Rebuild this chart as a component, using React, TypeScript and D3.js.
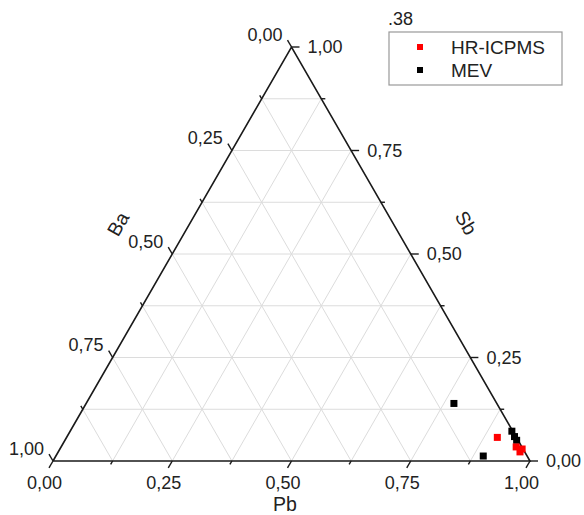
import React from "react";
import * as d3 from "d3";

// ternary data: Pb, Sb, Ba fractions (Ba = 1 - Pb - Sb)
const hrPb = [0.903, 0.954, 0.969, 0.968];
const hrSb = [0.057, 0.034, 0.029, 0.022];
const mevPb = [0.771, 0.896, 0.926, 0.938, 0.947];
const mevSb = [0.139, 0.012, 0.072, 0.059, 0.05];
const majorTicks = [0, 0.25, 0.5, 0.75, 1];
const minorTicks = [0.125, 0.375, 0.625, 0.875];
const gridSteps = [0.125, 0.25, 0.375, 0.5, 0.625, 0.75, 0.875];
const legendNames = ["HR-ICPMS", "MEV"];
const cornerNote = ".38";

const locale = d3.formatLocale({ decimal: ",", thousands: ".", grouping: [3], currency: ["", ""] });
const fmt = locale.format(".2f");

const xs = d3.scaleLinear().domain([0, 1]).range([53, 530]);
const ys = d3.scaleLinear().domain([0, 1]).range([461, 47]);
const proj = (pb: number, sb: number): [number, number] => [xs(pb + sb / 2), ys(sb)];

const FONT = "'Liberation Sans', Arial, sans-serif";
const S3 = Math.sqrt(3) / 2;

export default function App() {
  const line = d3.line();
  const grid: [number, number][][] = [];
  gridSteps.forEach((s) => {
    grid.push([proj(0, s), proj(1 - s, s)]); // const Sb
    grid.push([proj(s, 0), proj(s, 1 - s)]); // const Pb
    grid.push([proj(1 - s, 0), proj(0, 1 - s)]); // const Ba
  });

  const tickLines = (vals: number[], len: number) =>
    vals.flatMap((v) => {
      const b = proj(v, 0);
      const r = proj(1 - v, v);
      const l = proj(0, 1 - v);
      return [
        [b, [b[0] - 0.5 * len, b[1] + S3 * len]],
        [r, [r[0] + len, r[1]]],
        [l, [l[0] - 0.5 * len, l[1] - S3 * len]],
      ] as [number, number][][];
    });

  const tri = [proj(0, 0), proj(1, 0), proj(0, 1), proj(0, 0)];

  return (
    <svg width={584} height={515} style={{ position: "absolute", left: 0, top: 0, background: "#fff" }}>
      <g fill="none" stroke="#dcdcdc" strokeWidth={1}>
        {grid.map((g, i) => (
          <path key={i} d={line(g) || ""} />
        ))}
      </g>
      <path d={line(tri as [number, number][]) || ""} fill="none" stroke="#1a1a1a" strokeWidth={1.6} />
      <g stroke="#1a1a1a" strokeWidth={1.4}>
        {tickLines(majorTicks, 8).map((t, i) => (
          <path key={"M" + i} d={line(t) || ""} />
        ))}
        {tickLines(minorTicks, 4).map((t, i) => (
          <path key={"m" + i} d={line(t) || ""} />
        ))}
      </g>
      <g fontFamily={FONT} fontSize={18} fill="#222">
        {majorTicks.map((v) => {
          const b = proj(v, 0);
          const r = proj(1 - v, v);
          const l = proj(0, 1 - v);
          return (
            <g key={v}>
              <text x={b[0] - 8.5} y={b[1] + 21.5} dy="0.35em" textAnchor="middle">{fmt(v)}</text>
              <text x={r[0] + 16} y={r[1]} dy="0.35em" textAnchor="start">{fmt(v)}</text>
              <text x={l[0] - 9} y={l[1] - 12.5} dy="0.35em" textAnchor="end">{fmt(v)}</text>
            </g>
          );
        })}
      </g>
      <g fontFamily={FONT} fontSize={19.5} fill="#222">
        <text x={285} y={511} textAnchor="middle">Pb</text>
        <text transform="translate(118,224) rotate(-60)" dy="0.35em" textAnchor="middle">Ba</text>
        <text transform="translate(466,223) rotate(60)" dy="0.35em" textAnchor="middle">Sb</text>
      </g>
      <g>
        {mevPb.map((p, i) => {
          const [x, y] = proj(p, mevSb[i]);
          return <rect key={"k" + i} x={x - 3.5} y={y - 3.5} width={7} height={7} fill="#000" />;
        })}
        {hrPb.map((p, i) => {
          const [x, y] = proj(p, hrSb[i]);
          return <rect key={"r" + i} x={x - 3.5} y={y - 3.5} width={7} height={7} fill="#f00" />;
        })}
      </g>
      <text x={388} y={25} fontFamily={FONT} fontSize={18} fill="#222">{cornerNote}</text>
      <rect x={389} y={32} width={173} height={53} fill="#fff" stroke="#999" strokeWidth={1.2} />
      {legendNames.map((n, i) => (
        <g key={n}>
          <rect x={417} y={44 + i * 23} width={6} height={6} fill={i === 0 ? "#f00" : "#000"} />
          <text x={451} y={47 + i * 23} dy="0.35em" fontFamily={FONT} fontSize={19} fill="#222">{n}</text>
        </g>
      ))}
    </svg>
  );
}
